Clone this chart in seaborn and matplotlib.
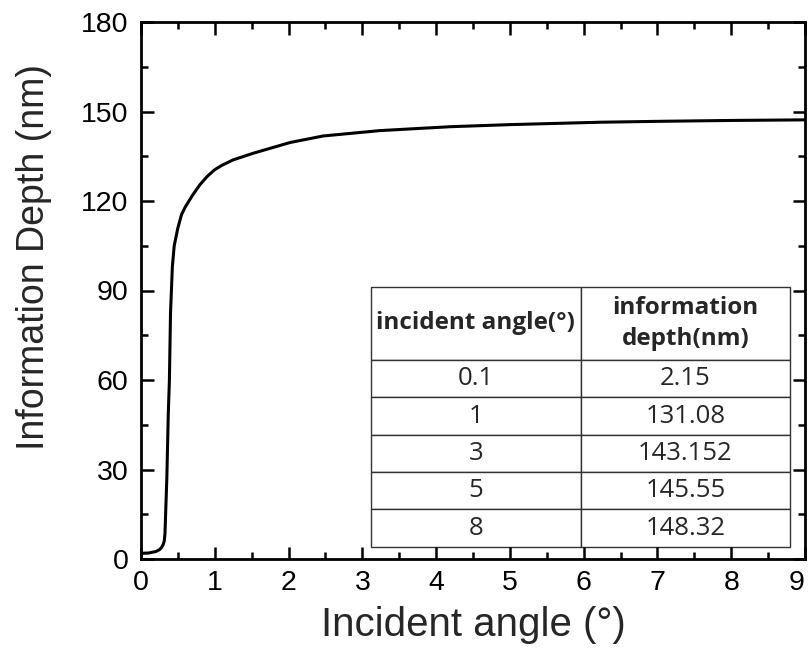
import matplotlib
matplotlib.use("Agg")
import matplotlib.pyplot as plt
import seaborn as sns
import pandas as pd
from matplotlib.ticker import MultipleLocator

angle = [0, 0.1, 0.2, 0.25, 0.28, 0.30, 0.315, 0.325, 0.335, 0.35, 0.37, 0.385, 0.40,
         0.425, 0.45, 0.50, 0.55, 0.60, 0.70, 0.80, 0.90, 1.0, 1.1, 1.25, 1.52, 2.02,
         2.47, 3.24, 4.19, 5, 6.22, 7, 8, 9]
depth = [1.9, 2.0, 2.5, 3.1, 3.9, 4.8, 6.0, 8.5, 16, 27, 48.8, 60, 82.4,
         98, 105, 111, 115.5, 118, 122, 125.5, 128.3, 130.5, 132, 133.8, 136, 139.6,
         141.8, 143.6, 144.9, 145.6, 146.4, 146.7, 147.0, 147.2]

x_ticks = [0, 1, 2, 3, 4, 5, 6, 7, 8, 9]
x_ticklabels = ["0", "1", "2", "3", "4", "5", "6", "7", "8", "9"]

table_header = ["incident angle(°)", "information\ndepth(nm)"]
table_angles = ["0.1", "1", "3", "5", "8"]
table_depths = ["2.15", "131.08", "143.152", "145.55", "148.32"]

sns.set_theme(style="ticks")
plt.rcParams['font.family'] = ['Liberation Sans', 'DejaVu Sans']

fig = plt.figure(figsize=(8.1, 6.59), dpi=100)
ax = fig.add_axes([141/810, 1-559/659, 664/810, 537/659])

df = pd.DataFrame({"angle": angle, "depth": depth})
sns.lineplot(data=df, x="angle", y="depth", ax=ax, color="black", lw=2.2)

ax.set_xlim(0, 9)
ax.set_ylim(0, 180)
ax.set_xticks(x_ticks, labels=x_ticklabels)
ax.xaxis.set_minor_locator(MultipleLocator(0.5))
ax.yaxis.set_major_locator(MultipleLocator(30))
ax.yaxis.set_minor_locator(MultipleLocator(15))
ax.tick_params(which="both", direction="in", top=True, right=True, width=1.8, colors="black")
ax.tick_params(which="major", length=9, labelsize=20.5)
ax.tick_params(axis="y", which="major", pad=9)
ax.tick_params(axis="x", which="major", pad=8)
ax.tick_params(which="minor", length=5)
for s in ax.spines.values():
    s.set_linewidth(2.0)
    s.set_color("black")

ax.set_xlabel("Incident angle (°)", fontsize=29, labelpad=7)
ax.set_ylabel("Information Depth (nm)", fontsize=27)
ax.yaxis.set_label_coords(-0.134, 0.562)

for tick in ax.xaxis.get_major_ticks():
    if tick.label1.get_text() == "9":
        tick.label1.set_horizontalalignment("right")

cells = [[a, d] for a, d in zip(table_angles, table_depths)]
x0 = (371-141)/664
x1 = (790-141)/664
y0 = (559-546.7)/537
y1 = (559-287)/537
tbl = ax.table(cellText=[table_header] + cells, cellLoc="center",
               bbox=[x0, y0, x1-x0, y1-y0], colWidths=[(580.7-371)/419, (790-580.7)/419])
tbl.auto_set_font_size(False)
hdr_h = (360-287)
row_h = (546.7-360)/len(cells)
tot = hdr_h + row_h*len(cells)
for (r, c), cell in tbl.get_celld().items():
    cell.set_linewidth(1.0)
    cell.set_edgecolor("#333333")
    cell.set_facecolor("white")
    t = cell.get_text()
    t.set_fontfamily(["Open Sans", "DejaVu Sans"])
    if r == 0:
        t.set_fontsize(17.5)
        t.set_fontweight("bold")
        t.set_linespacing(1.35)
        cell.set_height(hdr_h/tot*(y1-y0))
    else:
        t.set_fontsize(18.5)
        cell.set_height(row_h/tot*(y1-y0))

fig.savefig("out.png", dpi=100)
